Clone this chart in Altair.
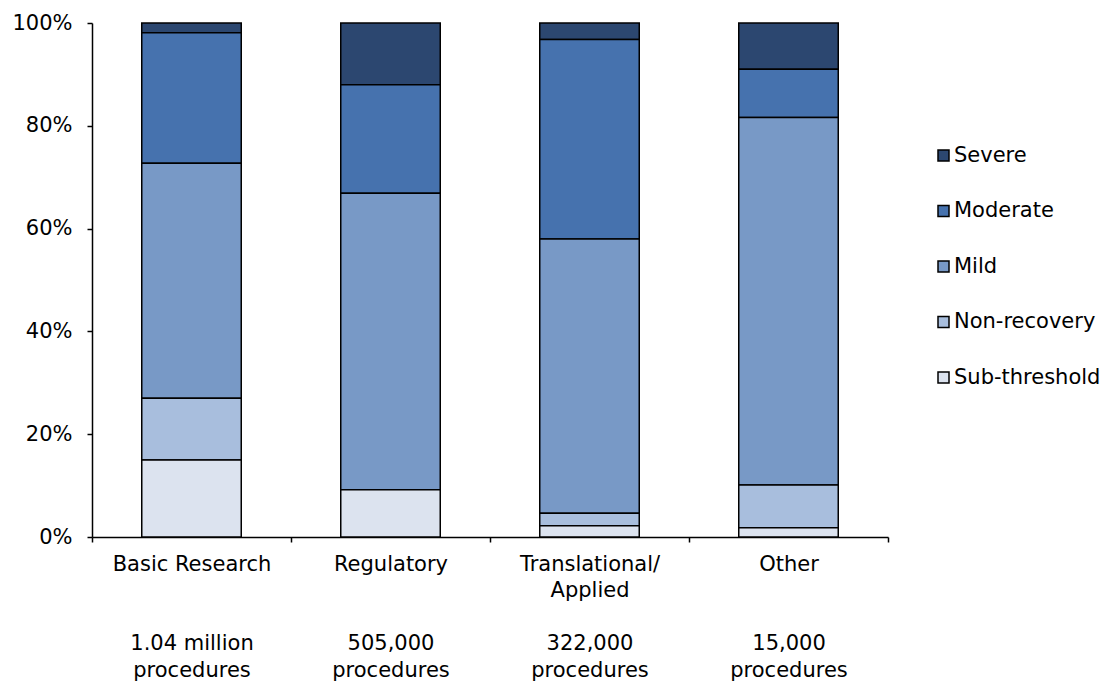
import altair as alt
import pandas as pd

# ---- data ----
categories = [
    "Basic Research|\u200b|\u200b|1.04 million|procedures",
    "Regulatory|\u200b|\u200b|505,000|procedures",
    "Translational/|Applied|\u200b|322,000|procedures",
    "Other|\u200b|\u200b|15,000|procedures",
]
severities = ["Severe", "Moderate", "Mild", "Non-recovery", "Sub-threshold"]
colors = ["#2C4770", "#4672AE", "#7899C6", "#A8BEDD", "#DCE3EF"]

severe = [1.9, 12.0, 3.2, 9.0]
moderate = [25.4, 21.1, 38.8, 9.4]
mild = [45.7, 57.7, 53.4, 71.5]
non_recovery = [12.0, 0.0, 2.4, 8.3]
sub_threshold = [15.0, 9.2, 2.2, 1.8]

y_ticks = [0, 20, 40, 60, 80, 100]

series = {
    "Severe": severe,
    "Moderate": moderate,
    "Mild": mild,
    "Non-recovery": non_recovery,
    "Sub-threshold": sub_threshold,
}
rows = []
for sev, vals in series.items():
    for cat, v in zip(categories, vals):
        rows.append({"category": cat, "severity": sev, "value": v,
                     "rank": len(severities) - 1 - severities.index(sev)})
df = pd.DataFrame(rows)

FONT = "DejaVu Sans"
FS = 21

chart = alt.Chart(df).mark_bar(
    width=alt.RelativeBandSize(0.5), stroke="black", strokeWidth=1.5
).encode(
    x=alt.X(
        "category:N",
        sort=categories,
        scale=alt.Scale(paddingInner=0, paddingOuter=0),
        axis=alt.Axis(
            title=None,
            labelExpr="split(datum.label, '|')",
            labelAngle=0,
            labelFontSize=FS,
            labelFont=FONT,
            labelColor="black",
            labelLineHeight=26.5,
            labelPadding=11,
            labelLimit=400,
            labelOverlap=False,
            labelAlign="center",
            tickBand="extent",
            tickSize=5,
            tickColor="black",
            tickWidth=1.5,
            domainColor="black",
            domainWidth=1.5,
            grid=False,
        ),
    ),
    y=alt.Y(
        "value:Q",
        stack=True,
        scale=alt.Scale(domain=[0, 100], nice=False),
        axis=alt.Axis(
            title=None,
            values=y_ticks,
            labelExpr="datum.value + '%'",
            labelFontSize=FS,
            labelFont=FONT,
            labelColor="black",
            labelPadding=15,
            tickSize=5,
            tickColor="black",
            tickWidth=1.5,
            domainColor="black",
            domainWidth=1.5,
            grid=False,
        ),
    ),
    color=alt.Color(
        "severity:N",
        scale=alt.Scale(domain=severities, range=colors),
        legend=alt.Legend(
            title=None,
            orient="none",
            legendX=841,
            legendY=122,
            symbolType="square",
            symbolSize=121,
            symbolStrokeColor="black",
            symbolStrokeWidth=1.5,
            symbolOpacity=1,
            labelFontSize=FS,
            labelFont=FONT,
            labelColor="black",
            labelOffset=0,
            rowPadding=33.5,
            padding=0,
        ),
    ),
    order=alt.Order("rank:Q", sort="ascending"),
).properties(
    width=796,
    height=514,
    autosize=alt.AutoSizeParams(type="none"),
    padding={"left": 84, "top": 15, "right": 217, "bottom": 145},
).configure_view(stroke=None)

chart.save("out.html", embed_options={"renderer": "svg", "actions": False})
